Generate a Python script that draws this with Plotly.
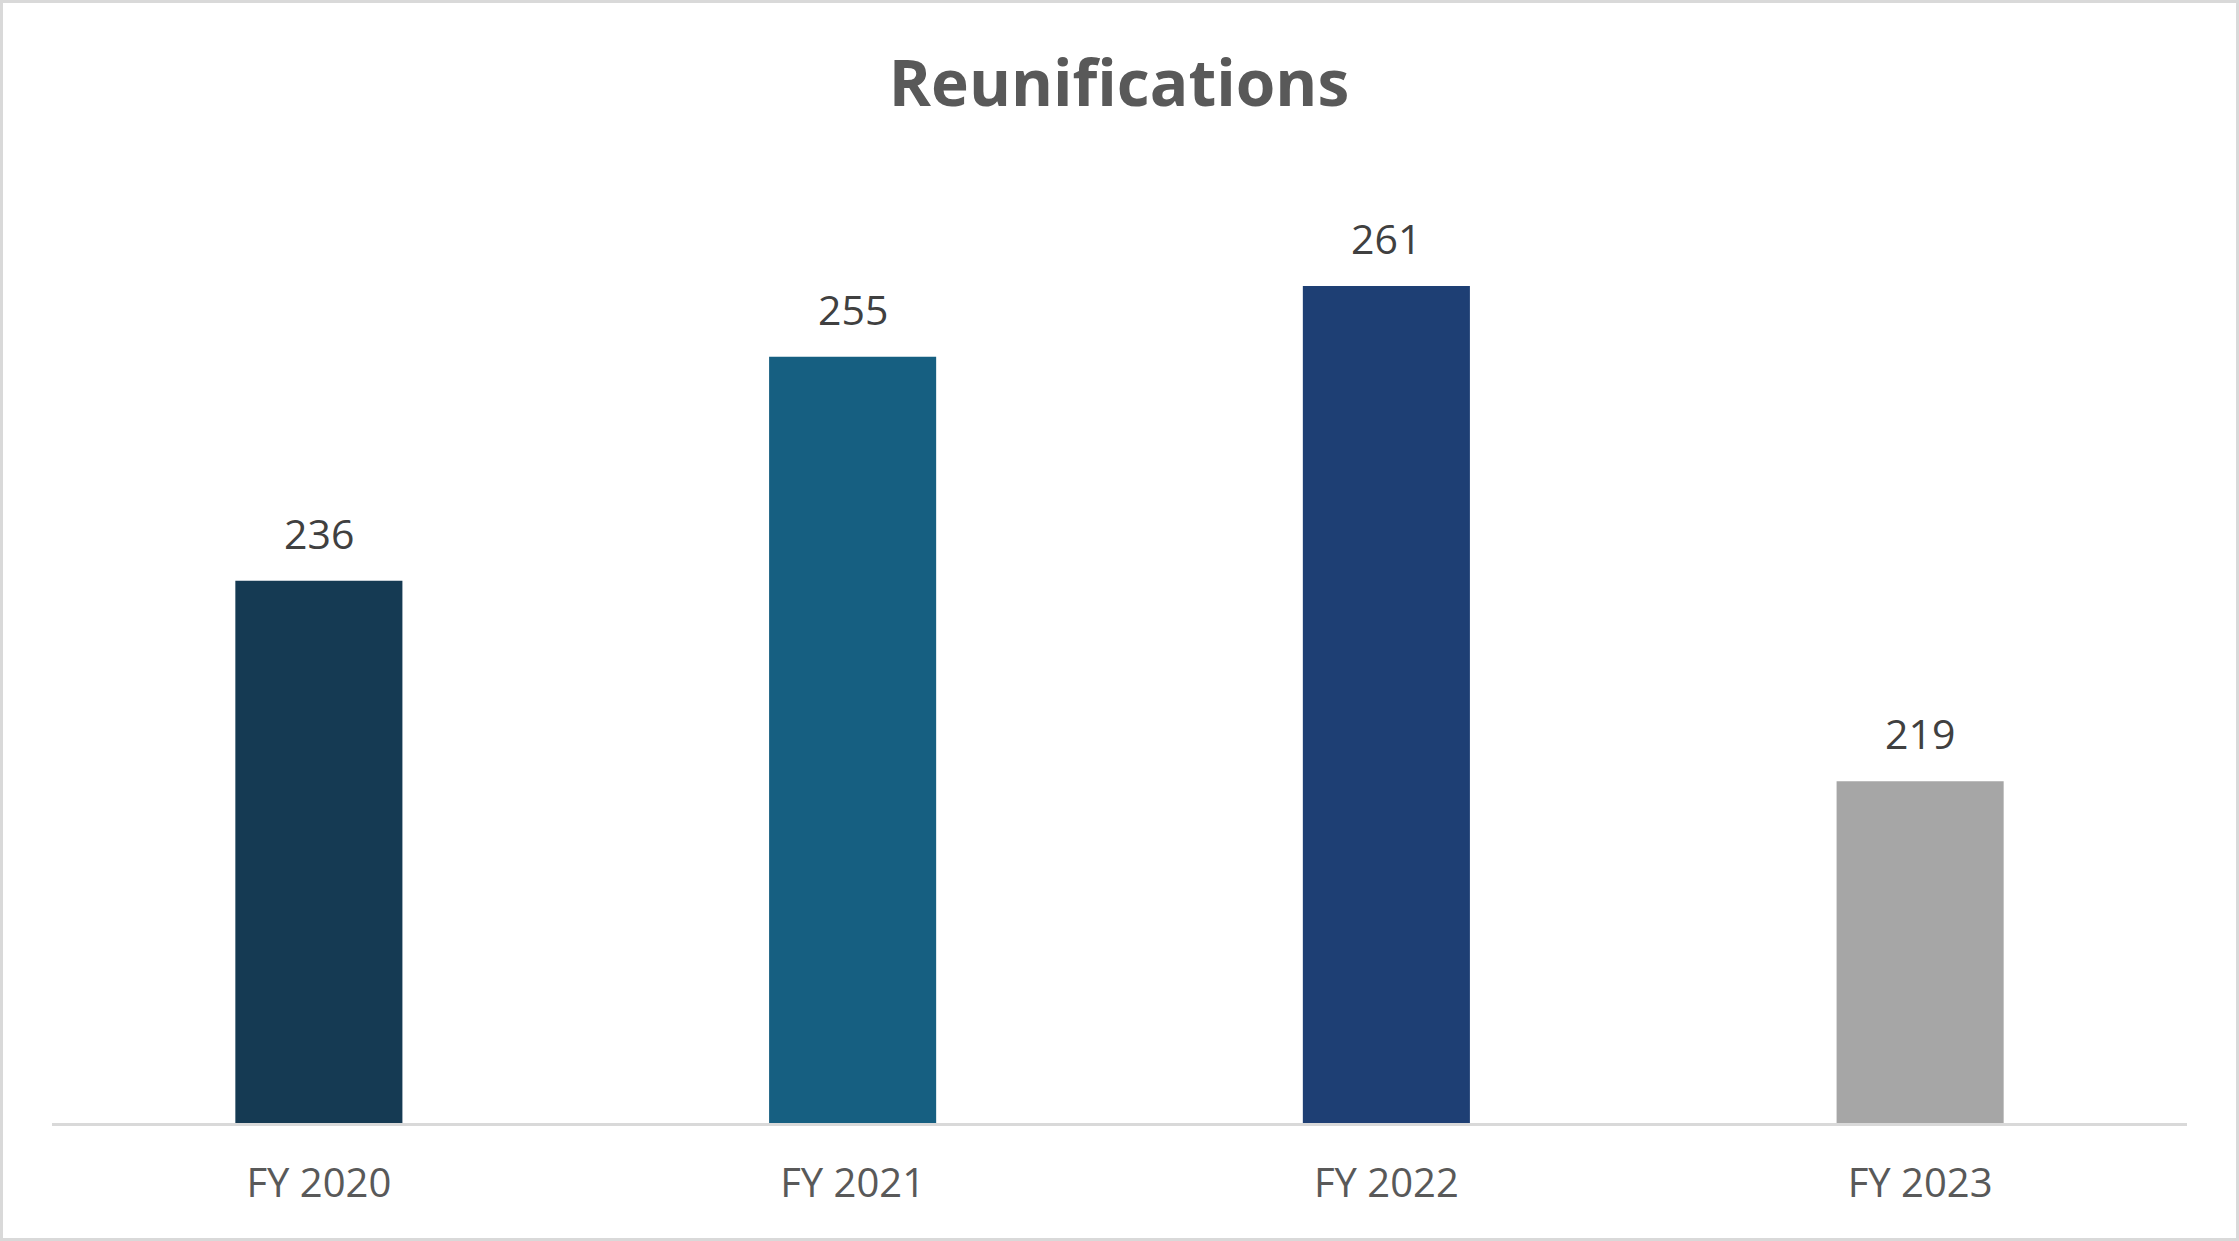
import plotly.graph_objects as go

categories = ["FY 2020", "FY 2021", "FY 2022", "FY 2023"]
values = [236, 255, 261, 219]
bar_colors = ["#153A53", "#165F81", "#1E3F74", "#A6A6A6"]
title_text = "Reunifications"

W, H = 2239, 1241
ML, MR, MT, MB = 52, 52, 180, 118

fig = go.Figure()
fig.add_trace(go.Bar(
    x=categories, y=values, marker=dict(color=bar_colors, line=dict(width=0)),
    hoverinfo="x+y", showlegend=False,
))

for c, v in zip(categories, values):
    fig.add_annotation(x=c, y=v, text=str(v), showarrow=False, yanchor="bottom",
                       yshift=18, font=dict(family="Open Sans", size=41, color="#404040"))

pw = W - ML - MR
ph = H - MT - MB
fig.add_shape(type="rect", xref="paper", yref="paper",
              x0=(1.5 - ML) / pw, x1=(W - 1.5 - ML) / pw,
              y0=-(H - 1.5 - MT - ph) / ph, y1=(ph + MT - 1.5) / ph,
              line=dict(color="#D9D9D9", width=3), fillcolor="rgba(0,0,0,0)", layer="below")

fig.update_layout(
    width=W, height=H,
    margin=dict(l=ML, r=MR, t=MT, b=MB, pad=0),
    paper_bgcolor="white", plot_bgcolor="white",
    bargap=0.687,
    title=dict(text="<b>" + title_text + "</b>", x=1119 / W, xanchor="center",
               y=1 - 84 / H, yanchor="middle",
               font=dict(family="Open Sans", size=64, color="#595959")),
    xaxis=dict(showline=True, linecolor="#D9D9D9", linewidth=3, showgrid=False,
               ticks="", ticklabelstandoff=23,
               tickfont=dict(family="Open Sans", size=40, color="#595959")),
    yaxis=dict(range=[190, 270], showgrid=False, showticklabels=False, zeroline=False,
               showline=False),
    font=dict(family="Open Sans"),
)

fig.write_html("out.html", config={"displayModeBar": False},
               post_script="document.body.style.margin='0';document.body.style.overflow='hidden';")
